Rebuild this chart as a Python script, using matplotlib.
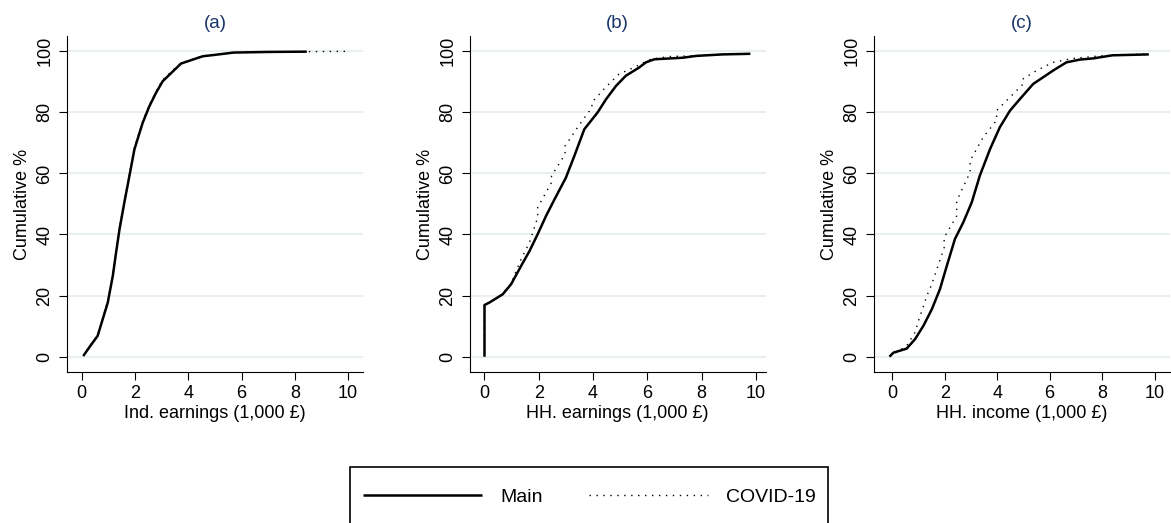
import matplotlib
matplotlib.use('Agg')
import matplotlib.pyplot as plt
from matplotlib.patches import Rectangle

plt.rcParams['font.family'] = ['Liberation Sans', 'DejaVu Sans']

# (a) individual earnings
a_main_x = [0.06, 0.3, 0.6, 0.98, 1.17, 1.29, 1.42, 1.6, 1.79, 1.98, 2.29, 2.54, 2.79, 3.04, 3.42, 3.73, 4.17,
            4.55, 5.05, 5.7, 6.95, 8.45]
a_main_y = [0.2, 3.2, 6.8, 17.7, 26.5, 34, 41.7, 50.4, 59.1, 67.9, 76.6, 82, 86.4, 90.2, 93.4, 96, 97.3,
            98.4, 98.9, 99.6, 99.8, 99.9]
a_cov_x = [0.06, 0.3, 0.6, 0.98, 1.17, 1.29, 1.42, 1.6, 1.79, 1.98, 2.29, 2.54, 2.79, 3.04, 3.42, 3.73, 4.17,
           4.55, 5.05, 5.7, 6.95, 8.45, 10.0]
a_cov_y = [0.2, 3.4, 7.0, 18.2, 27, 34.5, 42.2, 51, 59.6, 68.4, 77, 82.5, 86.9, 90.7, 93.8, 96.2, 97.4,
           98.5, 99, 99.6, 99.8, 99.9, 100]

# (b) household earnings
b_main_x = [0, 0, 0.18, 0.67, 0.98, 1.35, 1.66, 1.96, 2.27, 2.58, 3.0, 3.31, 3.68, 4.17, 4.48, 4.85, 5.21,
            5.7, 5.95, 6.26, 7.3, 7.8, 8.77, 9.8]
b_main_y = [0, 16.9, 17.7, 20.4, 23.7, 29.7, 34.6, 40.1, 46.1, 51.5, 58.6, 65.7, 74.5, 80, 84.3, 88.7, 92,
            94.7, 96.4, 97.4, 97.9, 98.5, 99, 99.2]
b_cov_x = [0, 0, 0.18, 0.67, 0.98, 1.35, 1.66, 1.96, 1.96, 2.47, 2.47, 2.97, 2.97, 3.47, 3.96, 3.96, 4.45,
           4.95, 5.5, 6.12, 6.8, 7.5, 8.77, 9.8]
b_cov_y = [0, 16.9, 17.7, 20.6, 24, 31.9, 37.4, 45.6, 48.9, 57, 59.2, 66.3, 69, 75.6, 81.6, 83.3, 88.1,
           92.5, 94.7, 97.4, 98.3, 98.5, 99, 99.2]

# (c) household income
c_main_x = [-0.1, 0.05, 0.55, 0.87, 1.19, 1.51, 1.82, 2.08, 2.39, 2.71, 3.03, 3.34, 3.73, 4.1, 4.49, 4.87,
            5.37, 5.75, 6.13, 6.64, 7.15, 7.67, 8.39, 9.78]
c_main_y = [0, 1.3, 2.6, 5.7, 10.1, 15.5, 22.1, 29.7, 38.5, 44, 50.5, 59.3, 68, 75.1, 80.6, 84.4,
            89.3, 91.5, 93.7, 96.4, 97.3, 97.7, 98.7, 99.0]
c_cov_x = [-0.1, 0.55, 0.87, 1.0, 1.32, 1.51, 1.98, 1.98, 2.46, 2.46, 2.97, 2.97, 3.47, 3.98, 3.98, 4.49,
           4.99, 4.99, 5.5, 6.13, 6.9, 7.9, 9.78]
c_cov_y = [0, 3.5, 7.9, 11.7, 19.9, 23.7, 35.7, 39, 46.1, 51, 60.4, 64.2, 71.9, 77.4, 80.6, 85,
           89.3, 91, 93.7, 96.4, 97.7, 98.5, 99.2]

titles = ['(a)', '(b)', '(c)']
xlabels = ['Ind. earnings (1,000 £)', 'HH. earnings (1,000 £)', 'HH. income (1,000 £)']
series = [(a_main_x, a_main_y, a_cov_x, a_cov_y),
          (b_main_x, b_main_y, b_cov_x, b_cov_y),
          (c_main_x, c_main_y, c_cov_x, c_cov_y)]
lefts = [0.057, 0.401, 0.746]
xlims = [(-0.56, 10.56), (-0.55, 10.37), (-0.71, 10.58)]

fig = plt.figure(figsize=(11.71, 5.23), dpi=100)

for i in range(3):
    ax = fig.add_axes([lefts[i], 0.289, 0.253, 0.642])
    mx, my, cx, cy = series[i]
    ax.plot(cx, cy, color='black', lw=1.0, linestyle=(0, (1, 4)), label='COVID-19')
    ax.plot(mx, my, color='black', lw=1.8, solid_capstyle='butt', label='Main')
    ax.set_xlim(*xlims[i])
    ax.set_ylim(-5, 105)
    ax.set_xticks([0, 2, 4, 6, 8, 10])
    ax.set_yticks([0, 20, 40, 60, 80, 100])
    ax.tick_params(axis='y', labelrotation=90, length=6, labelsize=13)
    ax.tick_params(axis='x', length=6, labelsize=13)
    for lab in ax.get_yticklabels():
        lab.set_va('center')
    ax.grid(axis='y', color='#e6eef1', lw=1.3)
    ax.set_axisbelow(True)
    ax.spines['top'].set_visible(False)
    ax.spines['right'].set_visible(False)
    ax.set_ylabel('Cumulative %', fontsize=13)
    ax.set_xlabel(xlabels[i], fontsize=13, labelpad=2)
    ax.set_title(titles[i], fontsize=13.5, color='#1a3668', pad=6)

handles, labels = ax.get_legend_handles_labels()
fig.patches.append(Rectangle((350 / 1171, -0.1), 478 / 1171, 0.207, transform=fig.transFigure,
                             fill=False, edgecolor='black', lw=1.2))
fig.legend(handles[::-1], labels[::-1], loc='center left', bbox_to_anchor=(363 / 1171, 0.05),
           ncol=2, frameon=False, fontsize=14, handlelength=6.1, handletextpad=0.95,
           columnspacing=2.4, borderpad=0, borderaxespad=0)

fig.savefig('out.png', dpi=100)
